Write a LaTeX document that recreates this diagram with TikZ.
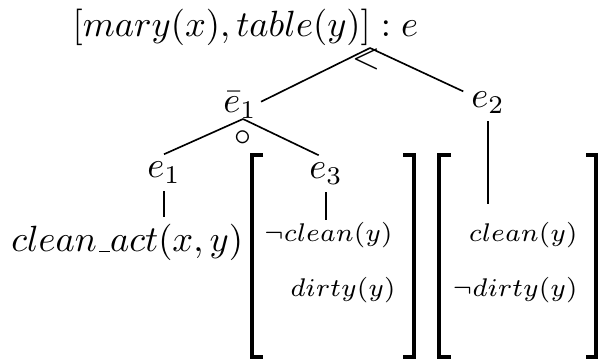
\documentclass[tikz,border=0pt]{standalone}
\newcommand{\myuscore}{\leavevmode\kern.06em\vbox{\hrule width.3em}}
\begin{document}
\begin{tikzpicture}[x=0.274pt,y=-0.274pt,
  lbl/.style={inner sep=0pt},
  tn/.style={inner sep=2pt},
  small/.style={inner sep=0.5pt,font=\fontsize{7.5}{9}\selectfont},
  edge/.style={line width=0.45pt},
  brk/.style={line width=1pt}]
\useasboundingbox (0,0) rectangle (601,360);
% nodes
\node[lbl,anchor=base west,font=\fontsize{10.2}{12}\selectfont] (top) at (72,37) {$[mary(x), table(y)] : e$};
\node[lbl,anchor=base] (eb1) at (240,113) {$\bar{e}_1$};
\node[tn,anchor=base] (e2) at (488,108) {$e_2$};
\node[tn,anchor=base] (e1) at (164,178) {$e_1$};
\node[tn,anchor=base] (e3) at (326,179) {$e_3$};
\node[tn,anchor=base east] (ca) at (251,252) {$clean\mbox{\myuscore}act(x,y)$};
\node[small,anchor=base east] (nc) at (395,242) {$\neg clean(y)$};
\node[small,anchor=base east] (d1) at (398,297) {$dirty(y)$};
\node[small,anchor=base east] (c2) at (580,242) {$clean(y)$};
\node[small,anchor=base east] (nd2) at (580,297) {$\neg dirty(y)$};
\node[lbl] (lt) at (366,59) {$<$};
\node[lbl,font=\fontsize{9}{10}\selectfont] (circ) at (243,138) {$\circ$};
\coordinate (ap) at (370,48);
\coordinate (ap2) at (243,119);
\coordinate (e2end) at (488,204);
% connectors
\draw[edge] (ap) -- ([xshift=1pt,yshift=1pt]eb1.east);
\draw[edge] (ap) -- (e2);
\draw[edge] (ap2) -- (e1.north);
\draw[edge] (ap2) -- ([xshift=-2pt]e3.north);
\draw[edge] (e1.south) -- (e1.south |- ca.north);
\draw[edge] (e3.south) -- (e3.south |- nc.north);
\draw[edge] (e2.south) -- (e2end);
% brackets
\draw[brk] (263,155) -- (252,155) -- (252,357) -- (263,357);
\draw[brk] (403,155) -- (414,155) -- (414,357) -- (403,357);
\draw[brk] (451,155) -- (439,155) -- (439,357) -- (451,357);
\draw[brk] (586,155) -- (596,155) -- (596,357) -- (586,357);
\end{tikzpicture}
\end{document}
